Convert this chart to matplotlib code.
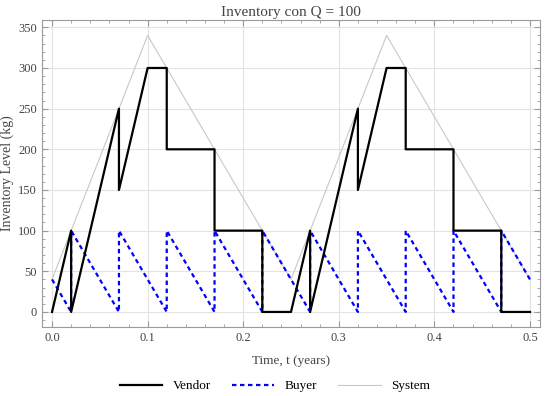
import matplotlib

matplotlib.use("Agg")
import matplotlib.pyplot as plt
from matplotlib.ticker import MultipleLocator, FormatStrFormatter

# vendor inventory path (time, kg)
vendor_t = [0.0, 0.02, 0.02, 0.07, 0.07, 0.10, 0.12, 0.12, 0.17, 0.17, 0.22, 0.22, 0.25,
            0.27, 0.27, 0.32, 0.32, 0.35, 0.37, 0.37, 0.42, 0.42, 0.47, 0.47, 0.50]
vendor_q = [0, 100, 0, 250, 150, 300, 300, 200, 200, 100, 100, 0, 0,
            100, 0, 250, 150, 300, 300, 200, 200, 100, 100, 0, 0]

# buyer inventory path
buyer_t = [0.0, 0.02, 0.02, 0.07, 0.07, 0.12, 0.12, 0.17, 0.17, 0.22, 0.22, 0.27, 0.27,
           0.32, 0.32, 0.37, 0.37, 0.42, 0.42, 0.47, 0.47, 0.50]
buyer_q = [40, 0, 100, 0, 100, 0, 100, 0, 100, 0, 100, 0, 100,
           0, 100, 0, 100, 0, 100, 0, 100, 40]

# system inventory
system_t = [0.0, 0.10, 0.25, 0.35, 0.50]
system_q = [40, 340, 40, 340, 40]

TEXT = "#444444"
FRAME = "#9a9a9a"

plt.rcParams["font.family"] = ["Liberation Serif", "DejaVu Serif"]

fig = plt.figure(figsize=(5.5, 3.96), dpi=100)
ax = fig.add_axes([42 / 550, 1 - 327 / 396, 498 / 550, 307 / 396])

ax.plot(system_t, system_q, color="#c8c8c8", lw=0.8, label="System", zorder=2)
ax.plot(buyer_t, buyer_q, color="#0000ff", lw=1.6, ls=(0, (2, 1.6)), label="Buyer", zorder=3)
ax.plot(vendor_t, vendor_q, color="black", lw=1.6, label="Vendor", zorder=4)

ax.set_xlim(-0.0105, 0.5105)
ax.set_ylim(-18.5, 359)
ax.xaxis.set_major_locator(MultipleLocator(0.1))
ax.xaxis.set_minor_locator(MultipleLocator(0.02))
ax.yaxis.set_major_locator(MultipleLocator(50))
ax.yaxis.set_minor_locator(MultipleLocator(10))
ax.xaxis.set_major_formatter(FormatStrFormatter("%.1f"))

ax.grid(True, which="major", color="#e3e3e3", lw=0.8)
ax.set_axisbelow(True)
for s in ax.spines.values():
    s.set_color(FRAME)
ax.tick_params(which="both", direction="in", top=True, right=True, colors=FRAME,
               labelcolor=TEXT, labelsize=9)
ax.tick_params(which="major", length=4)
ax.tick_params(which="minor", length=2)

ax.set_title("Inventory con Q = 100", fontsize=11, color=TEXT, pad=3)
ax.set_xlabel("Time, t (years)", fontsize=9.5, color=TEXT, labelpad=8)
ax.set_ylabel("Inventory Level (kg)", fontsize=10, color=TEXT, labelpad=3)

handles, labels = ax.get_legend_handles_labels()
order = [2, 1, 0]
fig.legend([handles[i] for i in order], [labels[i] for i in order], loc="center",
           bbox_to_anchor=(0.5, 1 - 386 / 396), ncol=3, frameon=False, fontsize=9.5,
           labelcolor="black", handlelength=3.2, columnspacing=1.6)

fig.savefig("out.png", dpi=100)
